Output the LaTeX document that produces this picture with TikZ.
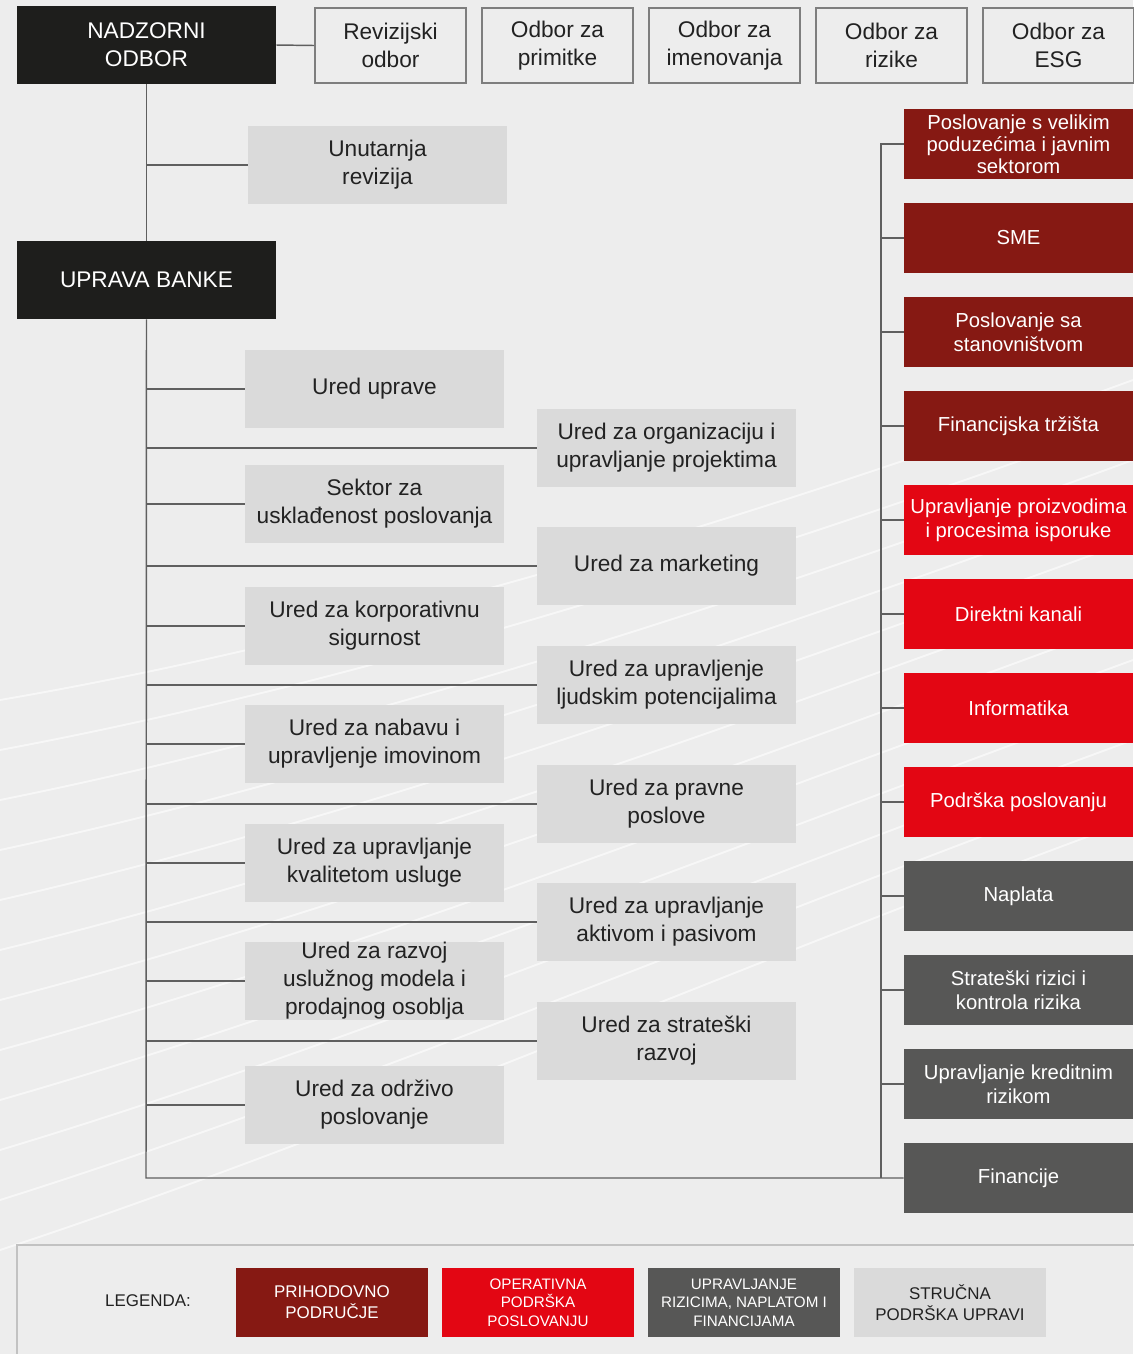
\documentclass[tikz,border=0pt]{standalone}
\usepackage{fontspec}
\setmainfont{Liberation Sans}
\definecolor{bgcol}{HTML}{EDEDED}
\definecolor{boardcol}{HTML}{1E1E1C}
\definecolor{prihod}{HTML}{861913}
\definecolor{operat}{HTML}{E30613}
\definecolor{rizik}{HTML}{575756}
\definecolor{strucna}{HTML}{DADADA}
\definecolor{linecol}{HTML}{5F5F5F}
\definecolor{framecol}{HTML}{7E7E7E}
\definecolor{legcol}{HTML}{C2C2C2}
\definecolor{txtcol}{HTML}{222222}

\begin{document}
\begin{tikzpicture}[x=0.75pt,y=-0.75pt,
  conn/.style={draw=linecol,line width=1.1pt},
  board/.style={fill=boardcol,text=white,minimum width=194.25pt,minimum height=58.5pt,
    inner sep=0pt,align=center,font=\fontsize{17}{21}\selectfont},
  odbor/.style={draw=framecol,line width=1.1pt,fill=bgcol,text=txtcol,minimum width=113.5pt,
    minimum height=56.5pt,inner sep=0pt,align=center,font=\fontsize{17}{21}\selectfont},
  staff/.style={fill=strucna,text=txtcol,minimum width=194.25pt,minimum height=58.5pt,
    inner sep=0pt,align=center,font=\fontsize{17}{21}\selectfont},
  unit/.style={text=white,minimum width=171.75pt,minimum height=52.5pt,
    inner sep=0pt,align=center,font=\fontsize{15.2}{18}\selectfont},
  legbox/.style={minimum width=144pt,minimum height=51.75pt,inner sep=0pt,align=center,
    font=\fontsize{12.7}{15.8}\selectfont},
  legsmall/.style={legbox,font=\fontsize{11.4}{13.9}\selectfont}]

\useasboundingbox (0,0) rectangle (1133,1354);
\fill[bgcol] (0,0) rectangle (1133,1354);
% faint background swoosh
\foreach \k in {0,...,11}
  \draw[white,line width=1.4pt,opacity=0.6] (0,{700+50*\k}) .. controls (350,{640+45*\k}) and (750,{520+40*\k}) .. (1133,{380+40*\k});

% board and committees
\node[board] (nadzor) at (146.5,45) {NADZORNI\\ODBOR};
\node[odbor] (revodb) at (390.5,45.5) {Revizijski\\odbor};
\node[odbor] (primodb) at (557.5,45.5) {Odbor za\\primitke};
\node[odbor] (imenodb) at (724.5,45.5) {Odbor za\\imenovanja};
\node[odbor] (rizodb) at (891.5,45.5) {Odbor za\\rizike};
\node[odbor] (esgodb) at (1058.5,45.5) {Odbor za\\ESG};
\node[staff] (unutrev) at (377.5,165) {Unutarnja\\revizija};
\node[board] (uprava) at (146.5,280) {UPRAVA BANKE};

% strucna podrska - lijevo
\node[staff] (uredupr) at (374.5,389) {Ured uprave};
\node[staff] (uskl) at (374.5,504) {Sektor za\\usklađenost poslovanja};
\node[staff] (korpsig) at (374.5,626) {Ured za korporativnu\\sigurnost};
\node[staff] (nabava) at (374.5,744) {Ured za nabavu i\\upravljenje imovinom};
\node[staff] (kvalit) at (374.5,863) {Ured za upravljanje\\kvalitetom usluge};
\node[staff] (razvoj) at (374.5,981) {Ured za razvoj\\uslužnog modela i\\prodajnog osoblja};
\node[staff] (odrziv) at (374.5,1105) {Ured za održivo\\poslovanje};

% strucna podrska - desno
\node[staff] (organiz) at (666.5,448) {Ured za organizaciju i\\upravljanje projektima};
\node[staff] (market) at (666.5,566) {Ured za marketing};
\node[staff] (ljudski) at (666.5,685) {Ured za upravljenje\\ljudskim potencijalima};
\node[staff] (pravne) at (666.5,804) {Ured za pravne\\poslove};
\node[staff] (aktiva) at (666.5,922) {Ured za upravljanje\\aktivom i pasivom};
\node[staff] (strateg) at (666.5,1041) {Ured za strateški\\razvoj};

% sektori
\node[unit,fill=prihod,font=\fontsize{15.2}{16.5}\selectfont] (velik) at (1018.5,144) {Poslovanje s velikim\\poduzećima i javnim\\sektorom};
\node[unit,fill=prihod] (sme) at (1018.5,238) {SME};
\node[unit,fill=prihod] (stanov) at (1018.5,332) {Poslovanje sa\\stanovništvom};
\node[unit,fill=prihod] (trzista) at (1018.5,426) {Financijska tržišta};
\node[unit,fill=operat] (proizv) at (1018.5,520) {Upravljanje proizvodima\\i procesima isporuke};
\node[unit,fill=operat] (direkt) at (1018.5,614) {Direktni kanali};
\node[unit,fill=operat] (inform) at (1018.5,708) {Informatika};
\node[unit,fill=operat] (podrska) at (1018.5,802) {Podrška poslovanju};
\node[unit,fill=rizik] (naplata) at (1018.5,896) {Naplata};
\node[unit,fill=rizik] (stratriz) at (1018.5,990) {Strateški rizici i\\kontrola rizika};
\node[unit,fill=rizik] (kredit) at (1018.5,1084) {Upravljanje kreditnim\\rizikom};
\node[unit,fill=rizik] (financ) at (1018.5,1178) {Financije};

\coordinate (lb) at (146,1178);
\coordinate (rt) at (881,143);
\coordinate (rb) at (881,1178);

% veze
\draw[conn] (nadzor.east) -- (revodb.west);
\draw[conn] (nadzor) -- (uprava);
\draw[conn] (unutrev.west) -- (unutrev.west -| nadzor);
\draw[conn] (uprava.south) -- (lb) -- (financ.west);
\draw[conn] (rt) -- (rb);
\foreach \n in {uredupr,uskl,korpsig,nabava,kvalit,razvoj,odrziv,organiz,market,ljudski,pravne,aktiva,strateg}
  \draw[conn] (\n.west) -- (\n.west -| lb);
\foreach \n in {velik,sme,stanov,trzista,proizv,direkt,inform,podrska,naplata,stratriz,kredit}
  \draw[conn] (\n.west) -- (\n.west -| rt);

% legenda
\draw[legcol,line width=1.5pt] (1140,1245) -- (17,1245) -- (17,1360);
\node[text=txtcol,font=\fontsize{12.7}{15.8}\selectfont] (legenda) at (148,1301) {LEGENDA:};
\node[legbox,fill=prihod,text=white] (legprih) at (332,1302.5) {PRIHODOVNO\\PODRUČJE};
\node[legsmall,fill=operat,text=white] (legoper) at (538,1302.5) {OPERATIVNA\\PODRŠKA\\POSLOVANJU};
\node[legsmall,fill=rizik,text=white] (legriz) at (744,1302.5) {UPRAVLJANJE\\RIZICIMA, NAPLATOM I\\FINANCIJAMA};
\node[legbox,fill=strucna,text=txtcol] (legstruc) at (950,1302.5) {STRUČNA\\PODRŠKA UPRAVI};

\end{tikzpicture}
\end{document}
